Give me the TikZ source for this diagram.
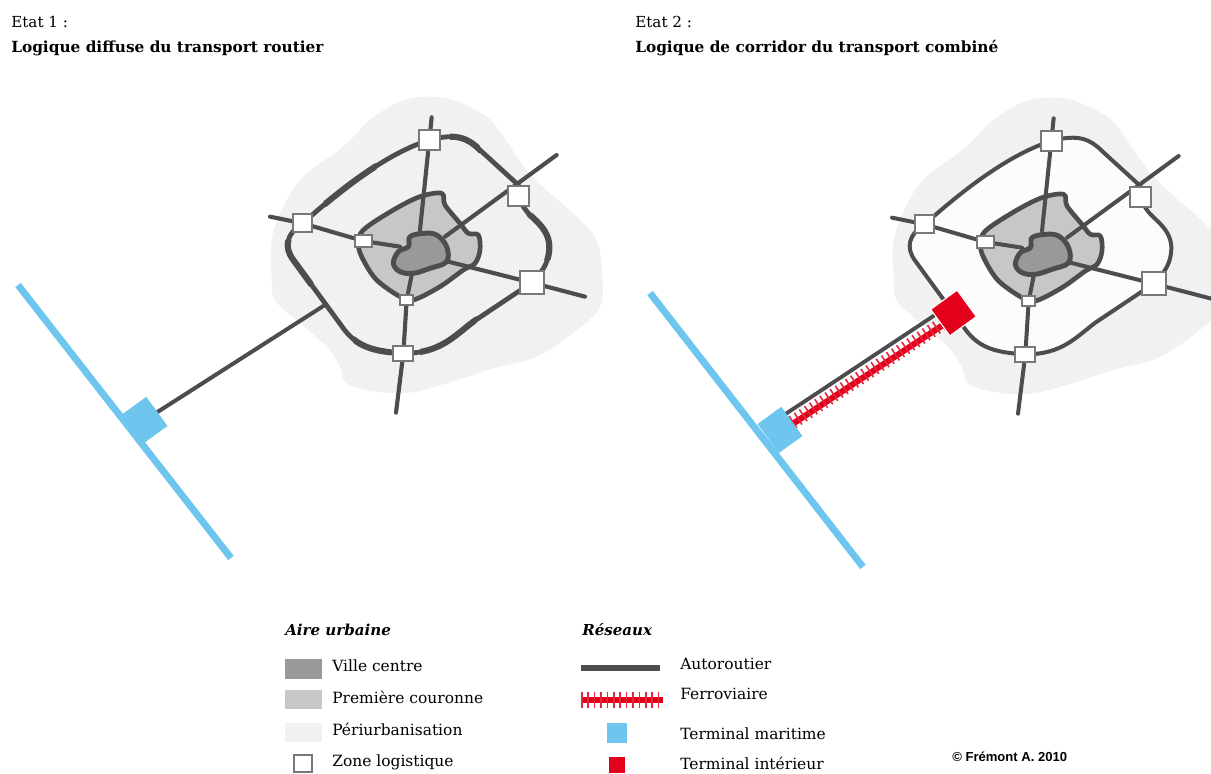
\documentclass[tikz,border=0pt]{standalone}
\usepackage{fontspec}
\setmainfont{DejaVu Serif}
\newfontfamily\credit{Liberation Sans}
\usetikzlibrary{backgrounds}
\definecolor{roadc}{HTML}{4D4D4F}
\definecolor{peric}{HTML}{F1F1F2}
\definecolor{courc}{HTML}{C6C7C9}
\definecolor{villec}{HTML}{98999B}
\definecolor{bluec}{HTML}{6EC6EE}
\definecolor{redc}{HTML}{E2001A}
\definecolor{zonec}{HTML}{77787A}
\definecolor{innerc}{HTML}{FCFCFC}
\tikzset{
  zone/.style={draw=zonec,fill=white,line width=1.3pt,inner sep=0pt,minimum width=#1*0.25pt},
  road/.style={draw=roadc,line cap=round,line join=round},
  seaway/.style={draw=bluec,line width=5.2pt},
  terminal/.style={inner sep=0pt,minimum width=#1},
  label/.style={anchor=base west,inner sep=0pt,font=\fontsize{11.6}{13}\selectfont},
  title/.style={anchor=base west,inner sep=0pt,font=\fontsize{11.5}{13}\selectfont\bfseries},
  plain/.style={anchor=base west,inner sep=0pt,font=\fontsize{11.4}{13}\selectfont},
  hd/.style={anchor=base west,inner sep=0pt,font=\fontsize{11.3}{13}\selectfont\bfseries\itshape},
  swatch/.style={inner sep=0pt,minimum width=27.5pt,minimum height=14.5pt}
}
\newcommand{\ringpath}[1]{(#1T.center) .. controls (590,128) and (625,145) .. (660,180) -- (775,285) -- (790,350) .. controls (810,385) and (870,410) .. (868,475) .. controls (866,510) and (855,530) .. (840,550) -- (#1S.center) -- (640,695) .. controls (580,740) and (540,790) .. (#1B.center) .. controls (340,785) and (290,770) .. (250,715) -- (100,510) .. controls (70,470) and (80,430) .. (#1L.center) .. controls (240,300) and (380,190) .. (#1T.center) -- cycle}
% #1 prefix, #2 dx, #3 dy, #4 ring width, #5 interior fill, #6 end of east road, #7 radial width
\newcommand{\citymap}[7]{
\begin{scope}[shift={(260+#2,90+#3)},x=0.25pt,y=-0.25pt]
  \node[zone=62,minimum height=14.5pt] (#1T) at (508,150) {};
  \node[zone=62,minimum height=15pt] (#1R) at (775,318) {};
  \node[zone=72,minimum height=17.5pt] (#1S) at (815,578) {};
  \node[zone=60,minimum height=11.5pt] (#1B) at (430,790) {};
  \node[zone=58,minimum height=13.5pt] (#1L) at (128,400) {};
  \node[zone=50,minimum height=9pt] (#1I) at (310,453) {};
  \node[zone=38,minimum height=7.5pt] (#1K) at (440,630) {};
  \coordinate (#1eN) at (515,82);
  \coordinate (#1eE) at (890,195);
  \coordinate (#1eS) at (#6);
  \coordinate (#1eB) at (408,968);
  \coordinate (#1eW) at (30,380);
  \coordinate (#1cN) at (480,420);
  \coordinate (#1cE) at (555,440);
  \coordinate (#1cS) at (565,515);
  \coordinate (#1cB) at (455,555);
  \coordinate (#1cW) at (420,470);
  \coordinate (#1J) at (190,648);
  \begin{scope}[on background layer]
    \fill[peric] plot[smooth cycle,tension=0.6] coordinates {(500,20)(420,35)(330,90)(250,170)(130,260)(70,350)(35,450)(35,560)(45,630)(120,700)(200,770)(240,830)(260,880)(350,905)(450,908)(560,880)(700,835)(830,800)(950,720)(1020,650)(1027,560)(1010,450)(950,380)(870,310)(800,240)(730,140)(680,80)(580,30)};
    \fill[#5] \ringpath{#1};
    \filldraw[road,fill=courc,line width=3.5pt] plot[smooth cycle,tension=0.55] coordinates {(310,420)(400,360)(480,320)(545,310)(555,345)(600,400)(625,430)(655,435)(660,480)(645,520)(610,540)(540,590)(460,630)(420,620)(350,570)(310,510)(295,465)};
    \filldraw[road,fill=villec,line width=3.7pt] plot[smooth cycle,tension=0.6] coordinates {(450,440)(490,430)(530,435)(560,470)(560,515)(510,535)(460,550)(420,545)(400,520)(415,485)(445,470)};
    \draw[road,line width=#7] (#1eN) -- (#1T.center) -- (#1cN);
    \draw[road,line width=#7] (#1eE) -- (#1cE);
    \draw[road,line width=#7] (#1eS) -- (#1S.center) -- (#1cS);
    \draw[road,line width=#7] (#1eB) -- (#1B.center) -- (#1K.center) -- (#1cB);
    \draw[road,line width=#7] (#1eW) -- (#1L.center) -- (#1I.center) -- (#1cW);
    \draw[road,line width=#4] \ringpath{#1};
  \end{scope}
\end{scope}
}
\begin{document}
\begin{tikzpicture}[x=0.75pt,y=-0.75pt]
\clip (0,0) rectangle (1211,774);
\useasboundingbox (0,0) rectangle (1211,774);

% ---- Etat 1
\node[plain] (t1a) at (11,28) {Etat 1 :};
\node[title] (t1b) at (11,53) {Logique diffuse du transport routier};
\citymap{a}{0}{0}{3.6pt}{peric}{975,620}{3.1pt}
\begin{scope}[on background layer]
\begin{scope}[shift={(260,90)},x=0.25pt,y=-0.25pt]
  \clip (190,220) rectangle (350,350)
        (570,110) rectangle (660,190)
        (800,370) rectangle (885,510)
        (65,450) rectangle (160,590)
        (280,740) rectangle (395,800)
        (480,680) rectangle (650,810);
  \draw[road,line width=4.6pt] \ringpath{a};
\end{scope}
\end{scope}
\node[terminal=27pt,minimum height=22pt,fill=bluec,rotate=-54] (aM) at (145,420) {};
\begin{scope}[on background layer]
  \coordinate (as1) at (18,285);
  \coordinate (as2) at (231,558);
  \draw[seaway] (as1) -- (as2);
  \draw[road,line width=3pt] (aM.center) -- (aJ);
\end{scope}

% ---- Etat 2
\node[plain] (t2a) at (635,28) {Etat 2 :};
\node[title] (t2b) at (635,53) {Logique de corridor du transport combiné};
\citymap{b}{622}{1}{3pt}{innerc}{1000,626}{3pt}
\node[terminal=27pt,minimum height=22pt,fill=bluec,rotate=-54] (bM) at (780,430) {};
\node[terminal=24.5pt,minimum height=24.5pt,fill=redc,draw=white,line width=0.8pt,rotate=-54] (bN) at (953.5,313) {};
\coordinate (bs1) at (650,293);
\coordinate (bs2) at (863,567);
\coordinate (br1) at (781,417);
\coordinate (br2) at (938,313);
\coordinate (bf1) at (788,427);
\coordinate (bf2) at (946,323);
\coordinate (bt1) at (787.2,425.8);
\coordinate (bt2) at (945.2,321.8);
\begin{scope}[on background layer]
  \draw[seaway] (bs1) -- (bs2);
  \draw[draw=roadc,line width=2.9pt] (br1) -- (br2);
  \draw[draw=redc,line width=4.5pt] (bf1) -- (bf2);
  \draw[draw=redc!85!white,line width=10.5pt,dash pattern=on 1.2pt off 3.4pt] (bt1) -- (bt2);
\end{scope}

% ---- Legend
\node[hd] (h1) at (285,635) {Aire urbaine};
\node[hd] (h2) at (582,635) {Réseaux};

\node[swatch,fill=villec] (l1) at (303.5,669) {};
\node[swatch,fill=courc] (l2) at (303.5,699.5) {};
\node[swatch,fill=peric] (l3) at (303.5,732.5) {};
\node[zone=56,minimum height=13pt] (l4) at (303,763.5) {};
\node[label] (x1) at (332,671) {Ville centre};
\node[label] (x2) at (332,703) {Première couronne};
\node[label] (x3) at (332,735) {Périurbanisation};
\node[label] (x4) at (332,766) {Zone logistique};

\coordinate (r1a) at (581,668);
\coordinate (r1b) at (660,668);
\coordinate (r2a) at (581,700);
\coordinate (r2b) at (663,700);
\draw[draw=roadc,line width=4pt] (r1a) -- (r1b);
\draw[draw=redc,line width=4.5pt] (r2a) -- (r2b);
\draw[draw=redc!85!white,line width=12.5pt,dash pattern=on 1.2pt off 3.6pt] (r2a) -- (r2b);
\node[inner sep=0pt,minimum width=15pt,minimum height=15pt,fill=bluec] (l5) at (617,733) {};
\node[inner sep=0pt,minimum width=12.5pt,minimum height=12pt,fill=redc] (l6) at (617,764.5) {};
\node[label] (x5) at (680,669) {Autoroutier};
\node[label] (x6) at (680,699) {Ferroviaire};
\node[label] (x7) at (680,739) {Terminal maritime};
\node[label] (x8) at (680,769) {Terminal intérieur};

\node[anchor=base west,inner sep=0pt,font=\fontsize{9.8}{11}\credit\bfseries] (c1) at (952,761) {© Frémont A. 2010};
\end{tikzpicture}
\end{document}
